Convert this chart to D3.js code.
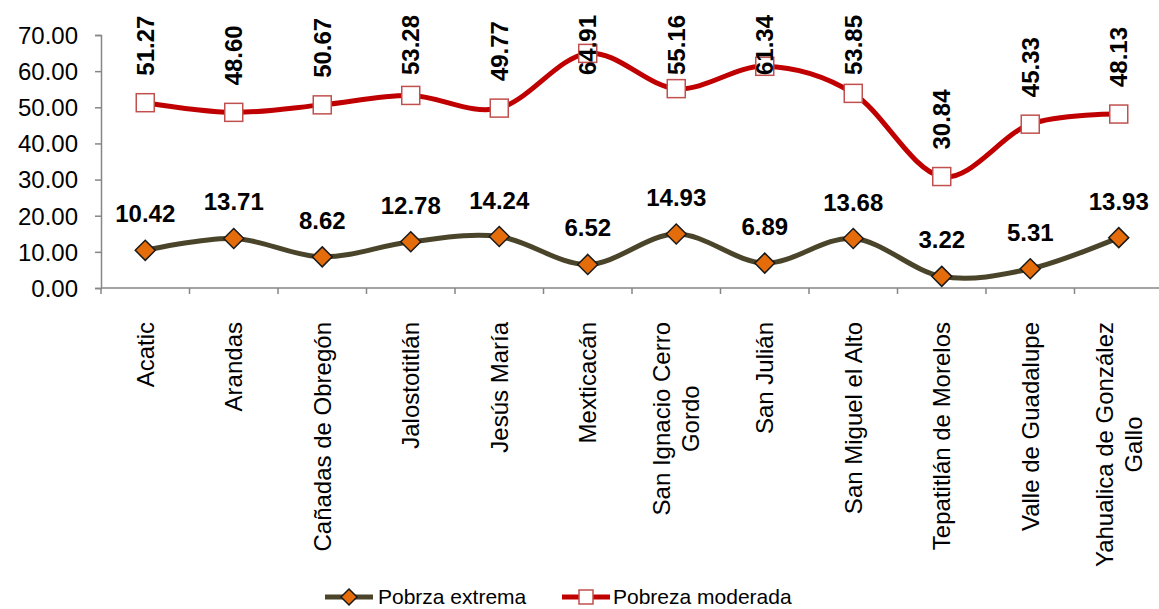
<!DOCTYPE html>
<html lang="es">
<head>
  <meta charset="UTF-8" />
  <title>Pobreza extrema y moderada</title>
  <script src="https://d3js.org/d3.v7.min.js"></script>
  <style>
    body {
      margin: 0;
      background: #ffffff;
      font-family: 'Liberation Sans', Arial, sans-serif;
    }
  </style>
</head>
<body>
  <svg id="chart" width="1159" height="609"></svg>

  <script>
    const municipios = [
      "Acatic", "Arandas", "Cañadas de Obregón", "Jalostotitlán", "Jesús María",
      "Mexticacán", "San Ignacio Cerro|Gordo", "San Julián", "San Miguel el Alto",
      "Tepatitlán de Morelos", "Valle de Guadalupe", "Yahualica de González|Gallo"
    ];
    const pobrezaExtrema = [10.42, 13.71, 8.62, 12.78, 14.24, 6.52, 14.93, 6.89, 13.68, 3.22, 5.31, 13.93];
    const pobrezaModerada = [51.27, 48.60, 50.67, 53.28, 49.77, 64.91, 55.16, 61.34, 53.85, 30.84, 45.33, 48.13];
    const yTicks = [0, 10, 20, 30, 40, 50, 60, 70];
    const serieNames = ["Pobrza extrema", "Pobreza moderada"];

    const svg = d3.select("#chart");
    const plotLeft = 101, plotRight = 1163, plotTop = 35, plotBottom = 288;
    const olive = "#4A452A", orange = "#E46C0A";
    const red = "#C00000", redEdge = "#C0504D";

    const x = d3.scaleBand().domain(municipios).range([plotLeft, plotRight]).padding(0);
    const y = d3.scaleLinear().domain([0, 70]).range([plotBottom, plotTop]);
    const cx = (d, i) => x(municipios[i]) + x.bandwidth() / 2;

    // y axis
    const yAxis = svg.append("g")
      .attr("transform", `translate(${plotLeft},0)`)
      .call(d3.axisLeft(y).tickValues(yTicks).tickSize(6).tickPadding(17).tickFormat(d3.format(".2f")));
    yAxis.select(".domain").attr("stroke", "#868686").attr("stroke-width", 1.5);
    yAxis.selectAll(".tick line").attr("stroke", "#868686").attr("stroke-width", 1.5);
    yAxis.selectAll(".tick text")
      .attr("font-family", "'Liberation Sans', Arial, sans-serif")
      .attr("font-size", "24px").attr("fill", "#000").attr("dy", "0.35em");

    // x axis: line plus ticks at category boundaries
    svg.append("line")
      .attr("x1", plotLeft).attr("x2", plotRight).attr("y1", plotBottom).attr("y2", plotBottom)
      .attr("stroke", "#868686").attr("stroke-width", 1.5);
    svg.append("g").selectAll("line")
      .data(municipios.map(m => x(m)).concat([plotRight]))
      .join("line")
      .attr("x1", d => d).attr("x2", d => d)
      .attr("y1", plotBottom).attr("y2", plotBottom + 6)
      .attr("stroke", "#868686").attr("stroke-width", 1.5);

    // category labels (rotated, block top at labelTop)
    const labelTop = 322;
    municipios.forEach((name, i) => {
      const lines = name.split("|");
      const g = svg.append("g")
        .attr("transform", `translate(${cx(null, i)},0) rotate(-90)`);
      const texts = lines.map((ln, k) => g.append("text")
        .attr("y", (k - (lines.length - 1) / 2) * 29)
        .attr("dominant-baseline", "central")
        .attr("text-anchor", "middle")
        .attr("font-size", "24px")
        .attr("fill", "#000")
        .text(ln));
      const maxLen = d3.max(texts, t => t.node().getComputedTextLength());
      texts.forEach(t => t.attr("x", -(labelTop + maxLen / 2)));
    });

    const line = d3.line()
      .x((d, i) => cx(d, i))
      .y(d => y(d))
      .curve(d3.curveCardinal.tension(0));

    // moderada line
    svg.append("path")
      .datum(pobrezaModerada)
      .attr("d", line)
      .attr("fill", "none")
      .attr("stroke", red)
      .attr("stroke-width", 5);

    // extrema line
    svg.append("path")
      .datum(pobrezaExtrema)
      .attr("d", line)
      .attr("fill", "none")
      .attr("stroke", olive)
      .attr("stroke-width", 5);

    // markers
    svg.append("g").selectAll("rect")
      .data(pobrezaModerada)
      .join("rect")
      .attr("x", (d, i) => cx(d, i) - 9)
      .attr("y", d => y(d) - 9)
      .attr("width", 18).attr("height", 18)
      .attr("fill", "#fff")
      .attr("stroke", redEdge)
      .attr("stroke-width", 1.5);

    const diamond = (px, py, r) => `M${px},${py - r}L${px + r},${py}L${px},${py + r}L${px - r},${py}Z`;
    svg.append("g").selectAll("path")
      .data(pobrezaExtrema)
      .join("path")
      .attr("d", (d, i) => diamond(cx(d, i), y(d), 10))
      .attr("fill", orange)
      .attr("stroke", "#1a1a1a")
      .attr("stroke-width", 1.5);

    // value labels - extrema (horizontal)
    svg.append("g").selectAll("text")
      .data(pobrezaExtrema)
      .join("text")
      .attr("x", (d, i) => cx(d, i))
      .attr("y", d => y(d) - 28)
      .attr("text-anchor", "middle")
      .attr("font-size", "24px")
      .attr("font-weight", "bold")
      .attr("fill", "#000")
      .text(d => d.toFixed(2));

    // value labels - moderada (rotated, kept inside the top)
    pobrezaModerada.forEach((d, i) => {
      const t = svg.append("text")
        .attr("text-anchor", "start")
        .attr("dominant-baseline", "central")
        .attr("font-size", "24px")
        .attr("font-weight", "bold")
        .attr("fill", "#000")
        .text(d.toFixed(2));
      const len = t.node().getComputedTextLength();
      const base = Math.max(y(d) - 27, 15 + len);
      t.attr("transform", `translate(${cx(d, i)},${base}) rotate(-90)`);
    });

    // legend
    const legendY = 597;
    const leg = svg.append("g");
    const item1 = leg.append("g").attr("transform", "translate(325,0)");
    item1.append("line").attr("x1", 0).attr("x2", 48).attr("y1", legendY).attr("y2", legendY)
      .attr("stroke", olive).attr("stroke-width", 5);
    item1.append("path").attr("d", diamond(24, legendY, 8))
      .attr("fill", orange).attr("stroke", "#1a1a1a").attr("stroke-width", 1.5);
    item1.append("text").attr("x", 53).attr("y", legendY).attr("dy", "0.35em")
      .attr("font-size", "21px").attr("fill", "#000").text(serieNames[0]);

    const item2 = leg.append("g").attr("transform", "translate(562,0)");
    item2.append("line").attr("x1", 0).attr("x2", 48).attr("y1", legendY).attr("y2", legendY)
      .attr("stroke", red).attr("stroke-width", 5);
    item2.append("rect").attr("x", 17).attr("y", legendY - 7).attr("width", 14).attr("height", 14)
      .attr("fill", "#fff").attr("stroke", redEdge).attr("stroke-width", 1.5);
    item2.append("text").attr("x", 51).attr("y", legendY).attr("dy", "0.35em")
      .attr("font-size", "21px").attr("fill", "#000").text(serieNames[1]);
  </script>
</body>
</html>
